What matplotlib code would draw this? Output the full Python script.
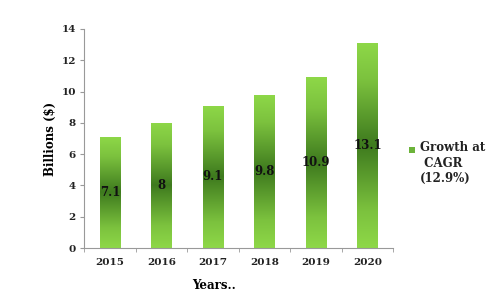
import numpy as np
import matplotlib.pyplot as plt
from matplotlib.colors import LinearSegmentedColormap
from matplotlib.patches import Rectangle

years = ["2015", "2016", "2017", "2018", "2019", "2020"]
values = [7.1, 8, 9.1, 9.8, 10.9, 13.1]
value_labels = ["7.1", "8", "9.1", "9.8", "10.9", "13.1"]

plt.rcParams['font.family'] = ['DejaVu Serif']
fig = plt.figure(figsize=(4.86, 2.95), dpi=100)
ax = fig.add_axes([0.173, 0.159, 0.636, 0.743])

# gradient: light at the ends, dark green in the middle
cmap = LinearSegmentedColormap.from_list(
    "g", [(0, "#8ed848"), (0.18, "#7cc23e"), (0.5, "#3e7a1e"),
          (0.82, "#7cc23e"), (1, "#8ed848")])
grad = np.linspace(0, 1, 256).reshape(-1, 1)

width = 0.39
for i, v in enumerate(values):
    x0 = i - width / 2
    im = ax.imshow(grad, cmap=cmap, aspect='auto', origin='lower',
                   extent=[x0, x0 + width, 0, v], zorder=2)
    rect = Rectangle((x0, 0), width, v, transform=ax.transData,
                     facecolor='none', edgecolor='none')
    ax.add_patch(rect)
    im.set_clip_path(rect)
    ax.text(i, v / 2, value_labels[i], ha='center', va='center',
            fontsize=8.5, fontweight='bold', color='#111111', zorder=3)

ax.set_xlim(-0.5, 5.5)
ax.set_ylim(0, 14)
ax.set_yticks(range(0, 15, 2))
ax.set_xticks(range(len(years)))
ax.set_xticklabels(years)
ax.set_xticks(np.arange(-0.5, 6, 1), minor=True)
ax.tick_params(axis='x', which='major', length=0, pad=7)
ax.tick_params(axis='x', which='minor', length=3, color='#999999')
ax.tick_params(axis='y', length=3, color='#999999', pad=3)
for lab in ax.get_xticklabels() + ax.get_yticklabels():
    lab.set_fontsize(7.5)
    lab.set_fontweight('bold')
    lab.set_color('#222222')

for s in ['top', 'right']:
    ax.spines[s].set_visible(False)
ax.spines['left'].set_color('#999999')
ax.spines['bottom'].set_color('#999999')

ax.set_ylabel("Billions ($)", fontsize=8.5, fontweight='bold', labelpad=3)
fig.text(0.441, 0.02, "Years..", fontsize=8.5, fontweight='bold', ha='center')

# legend
fig.patches.append(Rectangle((0.842, 0.482), 0.012, 0.02, transform=fig.transFigure,
                             facecolor='#6cb33a', edgecolor='none'))
fig.text(0.864, 0.522, "Growth at\n CAGR\n(12.9%)", fontsize=8.5,
         fontweight='bold', va='top', ha='left', linespacing=1.25, color='#222222')

fig.savefig("out.png", dpi=100)
